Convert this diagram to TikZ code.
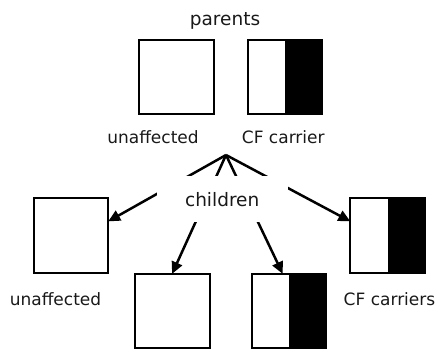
\documentclass[tikz,border=0pt]{standalone}
\usepackage{fontspec}
\setmainfont{DejaVu Sans}
\usetikzlibrary{arrows.meta}
\tikzset{
  box/.style={draw=black, line width=1.8pt, fill=white, minimum width=74.3pt, minimum height=74.3pt, inner sep=0pt},
  carrierbox/.style={box, path picture={\fill[black] (path picture bounding box.north) rectangle (path picture bounding box.south east);}},
  lbl/.style={anchor=base, inner sep=0pt, font=\fontsize{17}{20}\selectfont, text=black!90},
  biglbl/.style={lbl, font=\fontsize{18.5}{22}\selectfont},
  arr/.style={line width=2.5pt, -{Triangle[length=12pt, width=11pt]}, shorten >=-1pt},
}
\begin{document}
\begin{tikzpicture}[x=1pt, y=-1pt]
\useasboundingbox (0,0) rectangle (437,349);
% parents
\node[biglbl] (parents) at (225,25) {parents};
\node[box] (p1) at (176.5,77) {};
\node[carrierbox] (p2) at (285,77) {};
\node[lbl] (lu) at (153,143.5) {unaffected};
\node[lbl] (lc) at (283.3,143.5) {CF carrier};
% children boxes
\node[box] (c1) at (71,235.5) {};
\node[box] (c2) at (172.5,311) {};
\node[carrierbox] (c3) at (289,311) {};
\node[carrierbox] (c4) at (387.5,235.5) {};
% fan
\coordinate (apex) at (226,155);
\draw[arr] (apex) -- (c1.21);
\draw[arr] (apex) -- (c2.north);
\draw[arr] (apex) -- (c3.100);
\draw[arr] (apex) -- (c4.159);
\node[fill=white, minimum width=131pt, minimum height=46pt, inner sep=0pt] (chbg) at (222.5,199) {};
\node[biglbl] (children) at (222.2,206.7) {children};
% child labels
\node[lbl] (cu) at (55.5,305.5) {unaffected};
\node[lbl] (cc) at (389.5,305.8) {CF carriers};
\end{tikzpicture}
\end{document}
